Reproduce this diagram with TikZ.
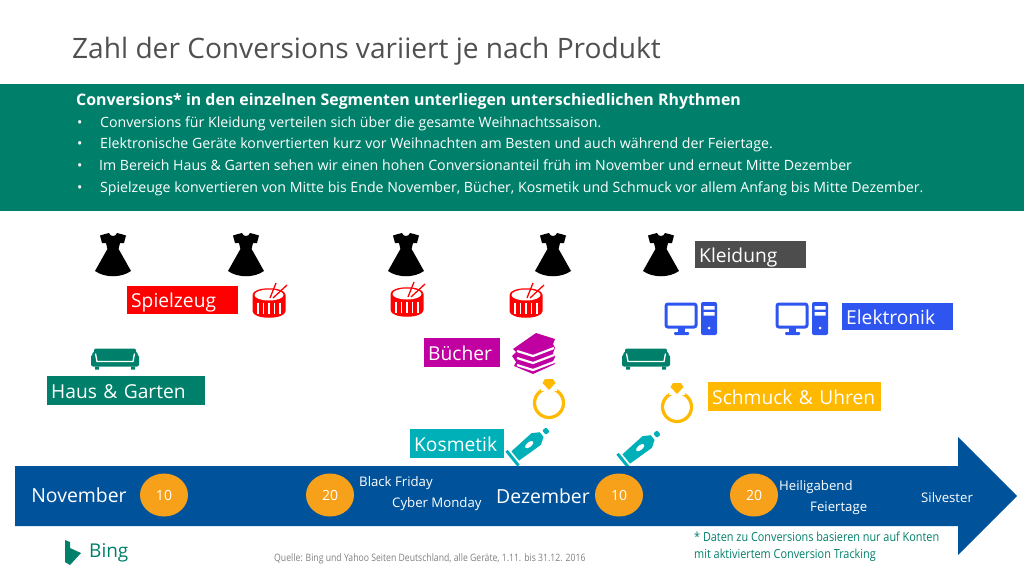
\documentclass[tikz,border=0pt]{standalone}
\usepackage{fontspec}
\usetikzlibrary{shapes.geometric}
\setmainfont{Open Sans}
\definecolor{bandgreen}{HTML}{00806A}
\definecolor{arrowblue}{HTML}{00539B}
\definecolor{dayorange}{HTML}{F7A11A}
\definecolor{titlegray}{HTML}{505050}
\definecolor{clothgray}{HTML}{4D4D4D}
\definecolor{techblue}{HTML}{2F55F0}
\definecolor{bookpink}{HTML}{C000A0}
\definecolor{ringamber}{HTML}{FFB900}
\definecolor{tubeteal}{HTML}{00B0B9}
\tikzset{
  x=1pt,y=-1pt,
  band/.style={anchor=base west,inner sep=0pt,text=white,font=\fontsize{14.15}{16}\selectfont},
  segbox/.style={anchor=north west,inner sep=0pt,inner xsep=4pt,minimum height=28pt,
    text height=15.5pt,text depth=0pt,align=left,text=white,font=\fontsize{19.2}{22}\selectfont},
  monthlabel/.style={inner sep=0pt,text=white,font=\fontsize{19.4}{23}\selectfont},
  daylabel/.style={anchor=west,inner sep=0pt,text=white,font=\fontsize{13.2}{16}\selectfont},
  daycircle/.style={ellipse,fill=dayorange,minimum width=48pt,minimum height=43pt,inner sep=0pt,text=white,font=\fontsize{14}{16}\selectfont},
  notetext/.style={anchor=west,inner sep=0pt,xscale=.87,transform shape,text=bandgreen,font=\fontsize{12.5}{14}\selectfont},
  dress/.pic={
    \fill[black] (-8,-20) -- (-4,-21) .. controls (-3,-17) and (3,-17) .. (4,-21) -- (8,-20)
      -- (13,-18.5) -- (11,-11) -- (7,-11) -- (5.6,-5) -- (18,17)
      .. controls (8,24) and (-8,24) .. (-18,17) -- (-5.6,-5) -- (-7,-11) -- (-11,-11) -- (-13,-18.5) -- cycle;
  },
  drum/.pic={
    \fill[red] (-16.5,-7) -- (-16.5,9) .. controls (-16.5,18) and (16.5,18) .. (16.5,9) -- (16.5,-7)
      .. controls (16.5,-16) and (-16.5,-16) .. (-16.5,-7) -- cycle;
    \fill[white] (0,-7) ellipse (14.5 and 5.5);
    \foreach \xs in {-11,-5.5,0,5.5,11}
      \draw[white,line width=1.2pt] (\xs,1) -- (\xs,12);
    \draw[red,line width=1.3pt] (1,-4) -- (7,-19);
    \draw[red,line width=1.3pt] (4,-4) -- (18,-17);
  },
  sofa/.pic={
    \fill[bandgreen,rounded corners=2pt] (-24,-4) -- (-21,-5) -- (-21,-10) -- (21,-10) -- (21,-5) -- (24,-4) -- (24,8) -- (-24,8) -- cycle;
    \fill[bandgreen] (-20,8) rectangle (-16,11) (16,8) rectangle (20,11);
    \draw[white,line width=1.3pt] (-19.5,-5) -- (-18,3) -- (18,3) -- (19.5,-5);
  },
  computer/.pic={
    \draw[techblue,line width=3pt,rounded corners=2pt] (-25,-14) rectangle (5,9);
    \fill[techblue] (-13,10) rectangle (-6,14);
    \fill[techblue,rounded corners=1pt] (-17,14) rectangle (-2,17);
    \fill[techblue,rounded corners=2pt] (10,-16) rectangle (26,17);
    \fill[white] (12.5,-12) rectangle (23.5,-8.5) (12.5,-6) rectangle (23.5,-2.5);
    \fill[white] (18,10) circle (1.5);
  },
  bookstack/.pic={
    \fill[bookpink] (-20,-4) -- (3,-20) -- (22,-14) -- (20,-9) -- (22,-5) -- (20,0) -- (22,4) -- (20,8) -- (22,11)
      -- (0,21) -- (-19,13) -- (-17,9) -- (-21,3) -- (-17,-1) -- cycle;
    \foreach \ys in {0,7,14}
      \draw[white,line width=2.2pt] (-16,{-2+\ys}) -- (0,{3+\ys}) -- (21,{-5+\ys});
  },
  ringicon/.pic={
    \draw[ringamber,line width=3.2pt] (0,5) circle (14.5);
    \fill[white] (-8,-12) rectangle (8,-7);
    \fill[ringamber] (-6.5,-15) -- (-4,-19) -- (4,-19) -- (6.5,-15) -- (0,-8) -- cycle;
  },
  tube/.pic={
    \begin{scope}[rotate=39]
      \fill[tubeteal] (-19,-6) -- (-19,6) -- (8,7.5) -- (15,3) -- (15,-3) -- (8,-7.5) -- cycle;
      \fill[tubeteal] (-24,-9.5) rectangle (-21,9.5);
      \fill[tubeteal,rounded corners=1pt] (18,-2.8) rectangle (23,2.8);
      \fill[white] (-1,0) ellipse (5 and 2.4);
    \end{scope}
  },
}
\begin{document}
\begin{tikzpicture}
  \useasboundingbox (0,0) rectangle (1024,576);
  \fill[white] (0,0) rectangle (1024,576);
  \node[anchor=base west,inner sep=0pt,text=titlegray,font=\fontsize{28.1}{30}\selectfont] (title) at (72,58) {Zahl der Conversions variiert je nach Produkt};
  % band
  \fill[bandgreen] (0,84) rectangle (1024,211);
  \node[band,font=\bfseries\fontsize{15.9}{17}\selectfont] (head) at (76,105) {Conversions* in den einzelnen Segmenten unterliegen unterschiedlichen Rhythmen};
  \node[band] (bula) at (77,127) {•};
  \node[band] (bulb) at (77,148) {•};
  \node[band] (bulc) at (77,170) {•};
  \node[band] (buld) at (77,192) {•};
  \node[band] (linea) at (100,127) {Conversions für Kleidung verteilen sich über die gesamte Weihnachtssaison.};
  \node[band] (lineb) at (100,148) {Elektronische Geräte konvertierten kurz vor Weihnachten am Besten und auch während der Feiertage.};
  \node[band] (linec) at (99,170) {Im Bereich Haus \& Garten sehen wir einen hohen Conversionanteil früh im November und erneut Mitte Dezember};
  \node[band] (lined) at (100,192) {Spielzeuge konvertieren von Mitte bis Ende November, Bücher, Kosmetik und Schmuck vor allem Anfang bis Mitte Dezember.};
  % segments
  \node[segbox,fill=clothgray,text width=103pt,minimum height=27pt] (kleidung) at (695,241) {Kleidung};
  \node[segbox,fill=red,text width=103pt] (spielzeug) at (127,286) {Spielzeug};
  \node[segbox,fill=techblue,text width=103pt,minimum height=27pt] (elektronik) at (842,303) {Elektronik};
  \node[segbox,fill=bookpink,text width=68pt,minimum height=29pt] (buecher) at (424,338) {Bücher};
  \node[segbox,fill=bandgreen,text width=150pt,minimum height=29pt] (haus) at (47,376) {Haus \& Garten};
  \node[segbox,fill=ringamber,text width=165pt,minimum height=29pt] (schmuck) at (708,382) {Schmuck \& Uhren};
  \node[segbox,fill=tubeteal,text width=86pt,minimum height=29pt] (kosmetik) at (410,429) {Kosmetik};
  % icons
  \foreach \xd in {113,246,406,553,661}
    \pic at (\xd,254) {dress};
  \pic at (269,302) {drum};
  \pic at (407,301) {drum};
  \pic at (526,302) {drum};
  \pic at (115,358.5) {sofa};
  \pic at (646,358.5) {sofa};
  \pic at (691,318) {computer};
  \pic at (802,318) {computer};
  \pic at (533,353) {bookstack};
  \pic at (549,398) {ringicon};
  \pic at (677,402) {ringicon};
  \pic at (530,444) {tube};
  \pic at (641,447) {tube};
  % timeline
  \fill[arrowblue] (15,466) -- (958,466) -- (958,437) -- (1017,496) -- (958,555) -- (958,526) -- (15,526) -- cycle;
  \node[monthlabel] (nov) at (79,495) {November};
  \node[monthlabel] (dez) at (543,496) {Dezember};
  \node[daycircle] (tena) at (164,495) {10};
  \node[daycircle] (twena) at (330,495) {20};
  \node[daycircle] (tenb) at (619,495) {10};
  \node[daycircle] (twenb) at (754,495) {20};
  \node[daylabel] (black) at (359,483) {Black Friday};
  \node[daylabel] (cyber) at (392,504) {Cyber Monday};
  \node[daylabel] (heilig) at (779,487) {Heiligabend};
  \node[daylabel] (feier) at (810,508) {Feiertage};
  \node[daylabel] (silv) at (921,498) {Silvester};
  % notes
  \node[notetext] (notea) at (694,537) {* Daten zu Conversions basieren nur auf Konten};
  \node[notetext] (noteb) at (694,555) {mit aktiviertem Conversion Tracking};
  \node[anchor=west,inner sep=0pt,xscale=.85,transform shape,text=gray,font=\fontsize{10.2}{12}\selectfont] (quelle) at (274,559) {Quelle: Bing und Yahoo Seiten Deutschland, alle Geräte, 1.11. bis 31.12. 2016};
  % logo
  \fill[bandgreen] (65,540) -- (70,542) -- (70,548) -- (81,553) -- (70,565) -- (65,562) -- cycle;
  \node[anchor=west,inner sep=0pt,text=bandgreen,font=\fontsize{19}{22}\selectfont] (bing) at (89,553) {Bing};
\end{tikzpicture}
\end{document}
